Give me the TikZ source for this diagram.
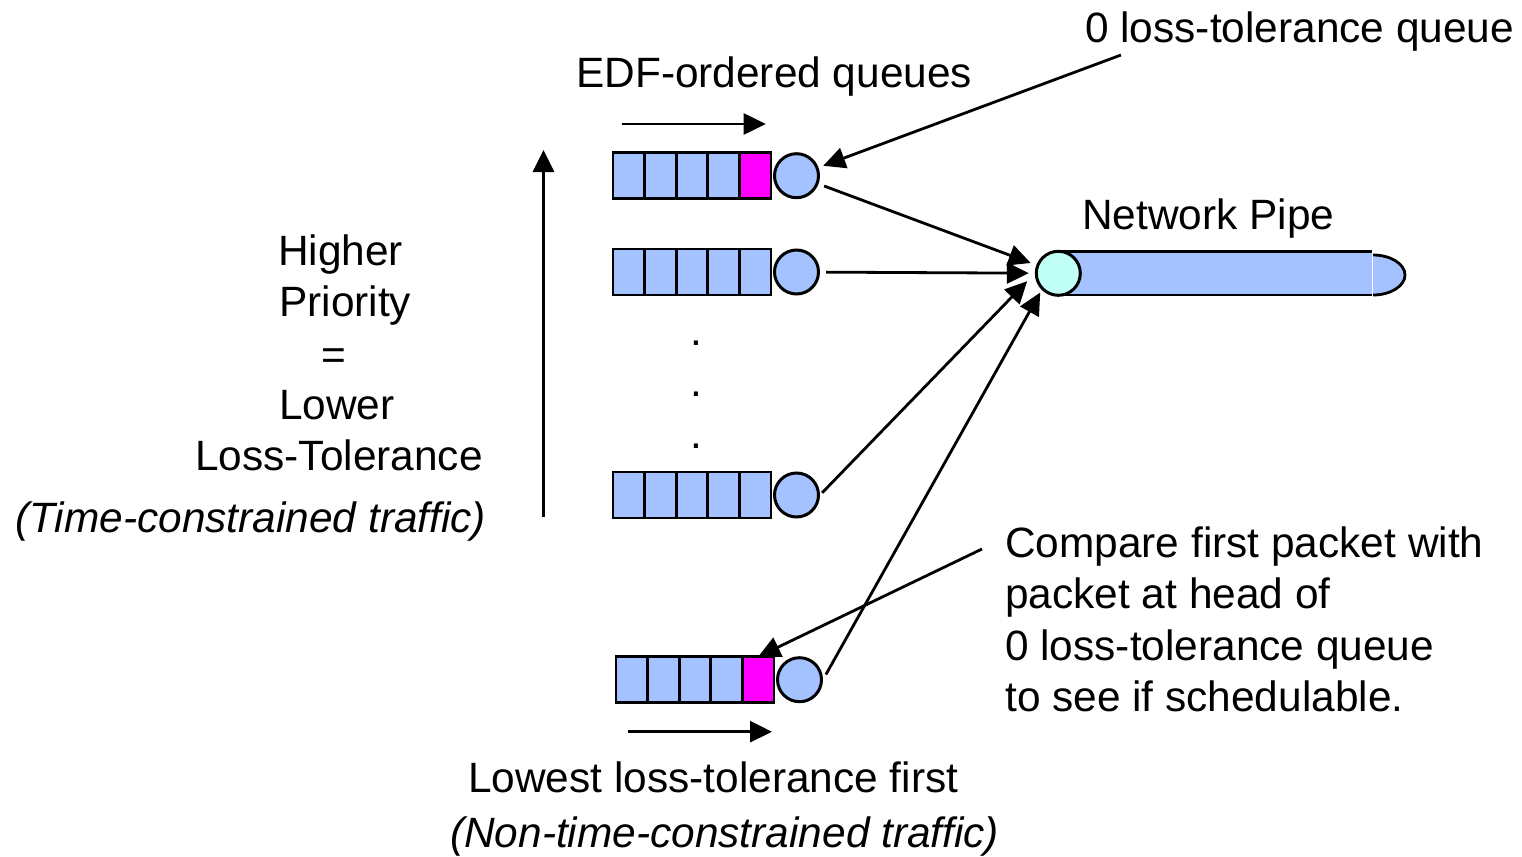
\documentclass[tikz,border=0pt]{standalone}
\usepackage{fontspec}
\setmainfont{Liberation Sans}
\usetikzlibrary{arrows.meta,calc}

\definecolor{qblue}{RGB}{164,194,255}
\definecolor{qpink}{RGB}{255,0,255}
\definecolor{pcyan}{RGB}{192,255,246}

\tikzset{
  lbl/.style={font=\fontsize{42.4}{51.5}\selectfont, inner sep=0pt, anchor=base west},
  ilbl/.style={lbl, font=\fontsize{42.4}{51.5}\selectfont\itshape},
  cell/.style={draw=black, line width=2.8pt, minimum width=31.6pt, minimum height=46pt,
               inner sep=0pt, outer sep=0pt},
  server/.style={circle, draw=black, line width=3pt, fill=qblue, minimum size=44pt, inner sep=0pt},
  flow/.style={line width=2.8pt, -{Triangle[length=22pt,width=21pt]}},
}

% one queue: five packet slots followed by its server circle
% #1 name, #2 left x, #3 top y, #4 colour of the head slot
\newcommand\makequeue[4]{%
  \foreach \i in {1,...,4}{
    \node[cell, fill=qblue] (#1c\i) at ({#2+31.6*(\i-0.5)}, {#3+23}) {};
  }
  \node[cell, fill=#4] (#1h) at ({#2+31.6*4.5}, {#3+23}) {};
  \node[server] (#1) at ({#2+183.5}, {#3+23}) {};
}

\begin{document}
\begin{tikzpicture}[x=1pt, y=-1pt]
\useasboundingbox (0,0) rectangle (1522,856);

% queues
\makequeue{qa}{613}{152.7}{qpink}
\makequeue{qb}{613}{249}{qblue}
\makequeue{qc}{613}{472}{qblue}
\makequeue{qd}{616}{656.7}{qpink}

% network pipe: body, rounded far end, entry circle
\fill[qblue] (1058,251.7) rectangle (1372,295);
\draw[line width=2.8pt] (1058,251.7) -- (1372,251.7);
\draw[line width=2.8pt] (1058,295) -- (1372,295);
\fill[qblue] (1373,255) .. controls (1390.7,255) and (1405,264) .. (1405,275)
  .. controls (1405,286) and (1390.7,295) .. (1373,295) -- cycle;
\draw[white, line width=1.2pt] (1372.6,253) -- (1372.6,294);
\draw[line width=2.8pt] (1373,255) .. controls (1390.7,255) and (1405,264) .. (1405,275)
  .. controls (1405,286) and (1390.7,295) .. (1373,295);
\node[server, fill=pcyan] (pc) at (1058.3,273.3) {};

% labels
\node[lbl] (lab0) at (1085,43) {0 loss-tolerance queue};
\node[lbl] (edf) at (576,88) {EDF-ordered queues};
\node[lbl] (pipe) at (1082,229) {Network Pipe};
\node[lbl] (hi1) at (278,265) {Higher};
\node[lbl] (hi2) at (279,316.5) {Priority};
\node[lbl] (hi3) at (321,369.5) {=};
\node[lbl] (hi4) at (279,419.5) {Lower};
\node[lbl] (hi5) at (195,470) {Loss-Tolerance};
\node[ilbl] (tc) at (15,532) {(Time-constrained traffic)};
\node[lbl] (cmp1) at (1005,557) {Compare first packet with};
\node[lbl] (cmp2) at (1005,608.5) {packet at head of};
\node[lbl] (cmp3) at (1005,660) {0 loss-tolerance queue};
\node[lbl] (cmp4) at (1005,711) {to see if schedulable.};
\node[lbl] (low) at (468,792) {Lowest loss-tolerance first};
\node[ilbl] (ntc) at (450,847) {(Non-time-constrained traffic)};
\node[lbl] (d1) at (690,345) {.};
\node[lbl] (d2) at (690,396.5) {.};
\node[lbl] (d3) at (690,448) {.};

% direction arrows
\coordinate (ta0) at (621.7,124);
\coordinate (ta1) at (765.7,124);
\coordinate (ba0) at (628,731.7);
\coordinate (ba1) at (772,731.7);
\coordinate (va0) at (543.5,517);
\coordinate (va1) at (543.5,150);
\draw[flow] (ta0) -- (ta1);
\draw[flow] (ba0) -- (ba1);
\draw[flow] (va0) -- (va1);

% queues feeding the pipe
\draw[flow, shorten <=6pt, shorten >=6pt] (qa) -- (pc);
\draw[flow, shorten <=6pt, shorten >=6pt] (qb) -- (pc);
\draw[flow, shorten <=3pt, shorten >=11pt] (qc.east) -- (pc.west);
\draw[flow, shorten <=6pt, shorten >=3pt] (qd.east) -- (pc.south west);

% callouts
\coordinate (c0) at (1121,55);
\draw[flow, shorten >=5pt] (c0) -- (qa);
\coordinate (c1) at (982,549);
\draw[flow] (c1) -- (qdh.north);
\end{tikzpicture}
\end{document}
